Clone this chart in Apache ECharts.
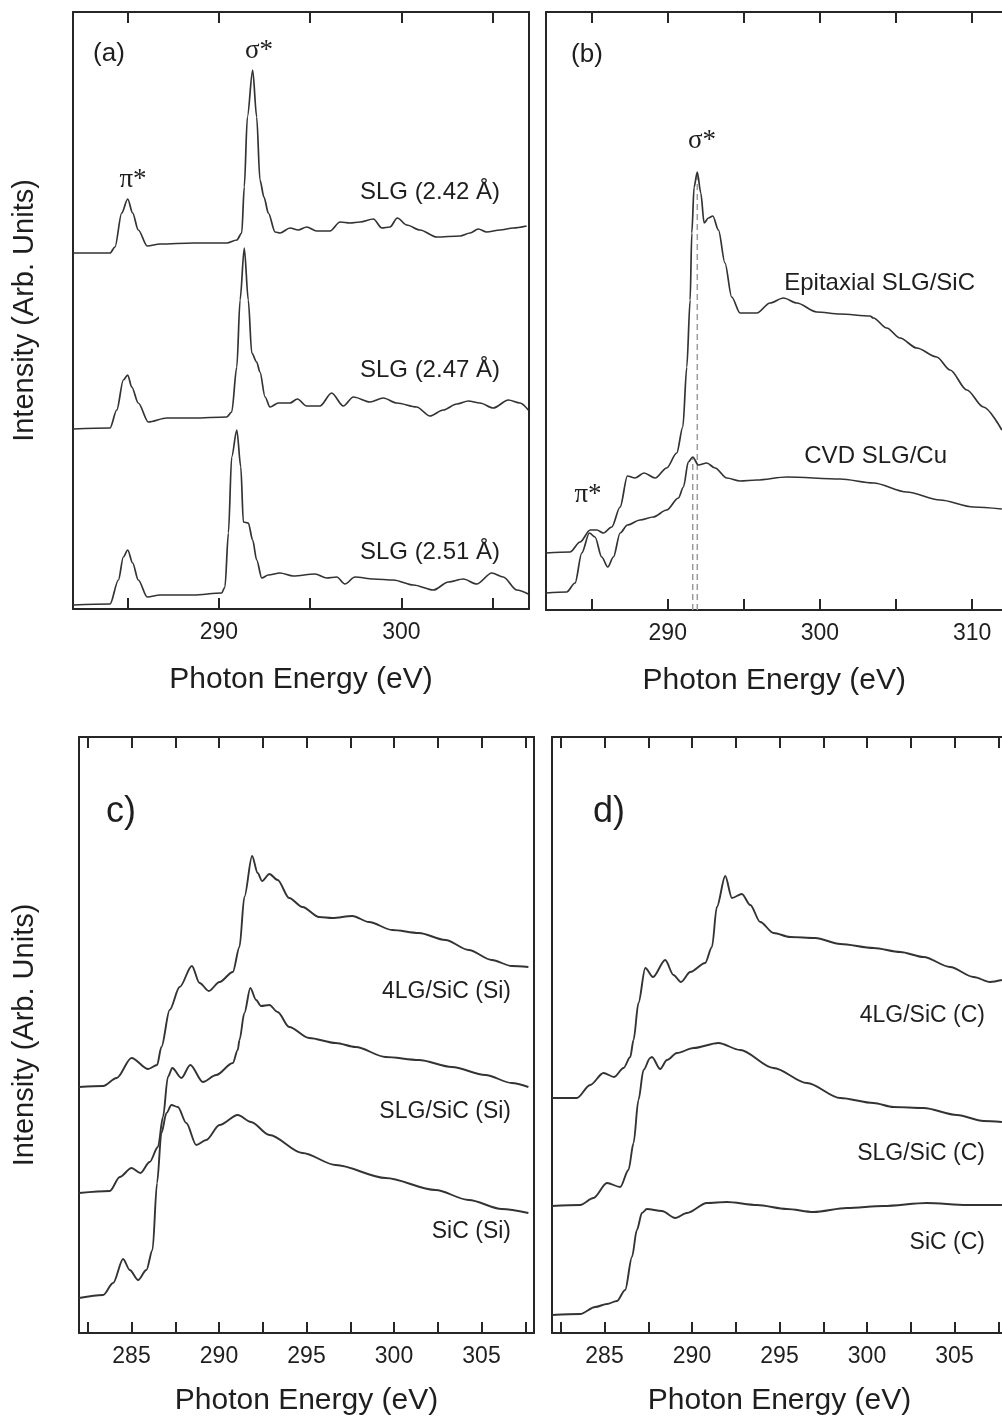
<!DOCTYPE html>
<html>
<head>
<meta charset="utf-8">
<title>NEXAFS C K-edge spectra</title>
<script src="https://cdn.jsdelivr.net/npm/echarts@6/dist/echarts.min.js"></script>
<style>
  html, body { margin: 0; padding: 0; background: #fff; }
  #chart { width: 1002px; height: 1421px; }
</style>
</head>
<body>
<div id="chart"></div>
<script>
// ---- data: [photon energy (eV), intensity (arb. units)] ----
const aSLG242 = [[282.0,356],[284.03,356],[284.3,362],[284.67,396],[285.0,410],[285.27,396],[285.58,379],[286.07,363],[286.77,365],[288.6,366],[290.43,366],[290.98,369],[291.25,376],[291.39,422],[291.56,492],[291.85,539],[292.07,492],[292.25,429],[292.47,412],[292.71,396],[293.08,377],[293.35,376],[293.9,381],[294.35,379],[294.81,382],[295.36,378],[296.09,378],[296.64,387],[297.19,386],[297.74,387],[298.47,390],[298.93,381],[299.38,382],[299.78,391],[300.3,384],[301.02,379],[301.94,372],[303.22,373],[303.77,376],[304.22,380],[304.68,377],[305.41,379],[306.14,381],[306.87,383]]
const aSLG247 = [[282.0,180],[284.03,181],[284.4,199],[284.76,229],[285.0,234],[285.22,222],[285.58,206],[286.13,187],[287.14,191],[288.6,191],[290.43,192],[290.7,197],[290.98,242],[291.16,309],[291.39,361],[291.61,309],[291.8,256],[292.07,247],[292.25,237],[292.53,212],[292.8,202],[293.26,206],[293.9,206],[294.3,210],[294.81,203],[295.54,203],[296.18,216],[296.82,203],[297.37,212],[298.28,207],[299.01,211],[299.75,206],[300.84,202],[301.57,193],[302.3,199],[303.04,205],[303.67,208],[304.31,206],[305.04,201],[305.87,209],[306.51,206],[306.96,199]]
const aSLG251 = [[282.0,4],[284.03,5],[284.49,29],[284.76,52],[285.0,59],[285.27,46],[285.58,29],[286.07,12],[286.77,14],[288.6,14],[290.15,16],[290.33,22],[290.52,76],[290.7,152],[290.98,179],[291.2,142],[291.34,87],[291.61,86],[291.85,69],[292.07,49],[292.35,31],[292.71,34],[293.35,36],[294.08,33],[295.27,35],[295.91,31],[296.46,32],[296.91,25],[297.46,32],[298.47,30],[299.56,29],[300.66,24],[301.76,19],[302.58,27],[303.4,30],[304.13,25],[304.96,36],[305.59,32],[306.33,19],[306.96,15]]

const bEpitaxial = [[282.0,57],[283.58,58],[284.24,68],[284.9,80],[285.34,80],[285.77,77],[286.32,83],[286.87,103],[287.35,134],[287.85,132],[288.44,137],[289.17,132],[289.93,142],[290.59,157],[290.99,183],[291.25,243],[291.47,310],[291.58,377],[291.73,423],[291.94,438],[292.17,417],[292.39,387],[292.67,392],[292.96,394],[293.33,380],[293.76,347],[294.2,313],[294.75,297],[295.85,297],[296.72,307],[297.6,312],[298.48,307],[299.79,298],[301.32,296],[303.29,294],[303.51,292],[304.39,282],[305.26,272],[306.36,262],[307.67,253],[308.55,240],[309.65,220],[310.74,203],[311.95,180]]
const bCVD = [[282.0,17],[283.36,18],[283.91,27],[284.35,57],[284.85,77],[285.22,73],[285.66,53],[286.06,43],[286.43,53],[286.87,77],[287.35,85],[288.18,90],[289.05,93],[289.93,100],[290.7,112],[291.03,123],[291.35,148],[291.64,153],[292.01,145],[292.56,147],[293.11,142],[293.88,132],[294.75,129],[295.85,130],[297.82,133],[301.32,131],[303.51,127],[305.7,118],[307.89,110],[310.08,103],[311.95,101]]
const bPeakCVD = [[291.64,0],[291.64,153]]
const bPeakEpi = [[291.94,0],[291.94,438]]

const c4LG = [[282.0,246],[283.38,247],[284.15,255],[285.0,275],[285.95,264],[286.46,268],[286.71,286],[287.18,323],[287.75,346],[288.45,367],[288.89,350],[289.42,342],[290.03,351],[290.79,361],[291.17,386],[291.45,436],[291.89,477],[292.21,460],[292.46,452],[292.88,459],[293.35,453],[294.01,435],[294.77,426],[295.72,416],[296.48,415],[297.62,417],[298.57,411],[299.9,403],[301.42,400],[302.94,393],[304.27,383],[305.59,373],[306.73,367],[307.68,366]]
const cSLG = [[282.0,140],[283.76,142],[284.33,156],[285.0,165],[285.51,160],[286.04,171],[286.51,186],[286.8,216],[287.08,256],[287.33,265],[287.85,255],[288.36,268],[289.08,251],[289.84,258],[290.79,270],[291.07,283],[291.17,293],[291.45,320],[291.79,345],[292.12,333],[292.4,327],[292.88,328],[293.35,321],[294.01,306],[295.15,295],[296.67,290],[297.81,286],[299.52,276],[301.42,273],[303.31,266],[305.22,258],[306.73,250],[307.68,246]]
const cSiC = [[282.0,35],[283.38,38],[283.95,50],[284.52,74],[284.9,63],[285.38,53],[285.85,63],[286.2,83],[286.46,150],[286.71,200],[287.0,220],[287.28,228],[287.65,226],[288.13,210],[288.7,188],[289.27,193],[290.03,208],[291.07,218],[291.83,211],[292.88,198],[294.77,180],[296.67,168],[299.52,155],[302.37,143],[304.27,133],[306.16,124],[307.68,120]]

const d4LG = [[282.0,235],[283.42,235],[284.18,248],[284.94,260],[285.55,256],[286.09,265],[286.47,276],[286.66,293],[286.94,330],[287.33,365],[287.77,356],[288.47,373],[288.94,358],[289.37,351],[289.9,361],[290.75,370],[291.14,386],[291.42,426],[291.9,457],[292.28,435],[292.85,439],[293.33,428],[293.9,411],[294.66,400],[295.61,396],[297.04,395],[298.47,389],[300.37,385],[301.9,381],[303.23,376],[304.75,366],[306.09,356],[307.04,351],[307.71,353]]
const dSLG = [[282.0,127],[283.61,128],[284.37,135],[285.14,150],[285.9,146],[286.37,163],[286.66,190],[286.94,233],[287.23,263],[287.61,275],[287.71,276],[288.18,264],[288.57,273],[289.14,280],[290.09,285],[291.51,290],[292.75,283],[294.66,265],[296.57,250],[298.47,235],[300.37,230],[301.51,226],[303.23,225],[305.14,218],[306.66,212],[307.71,211]]
const dSiC = [[282.0,18],[283.61,19],[284.47,26],[285.14,29],[285.71,32],[286.18,43],[286.57,76],[286.85,103],[287.14,120],[287.42,124],[288.28,122],[289.04,115],[289.71,120],[290.85,130],[291.99,131],[293.71,128],[295.42,124],[296.94,121],[298.85,125],[300.94,127],[303.42,130],[305.71,128],[307.71,128]]

// tick positions and labels
const ticksA = [285, 290, 295, 300, 305]
const labelsA = [290, 300]
const ticksB = [285, 290, 295, 300, 305, 310]
const labelsB = [290, 300, 310]
const ticksCD = [282.5, 285, 287.5, 290, 292.5, 295, 297.5, 300, 302.5, 305, 307.5]
const labelsCD = [285, 290, 295, 300, 305]

const FRAME = '#262626'
const LINE = '#333'
const TEXT = '#1e1e1e'
const SANS = '"Liberation Sans", Arial, sans-serif'
const SERIF = '"Liberation Serif", "Times New Roman", serif'

// panels (b) and (d) run past the right edge of the page, as in the original
const grids = [
  { left: 73, top: 12, width: 456, height: 597, outerBoundsMode: 'none' },
  { left: 546, top: 12, width: 456.6, height: 598, outerBoundsMode: 'none' },
  { left: 79, top: 737, width: 455, height: 596, outerBoundsMode: 'none' },
  { left: 552, top: 737, width: 455, height: 596, outerBoundsMode: 'none' },
]
const xRange = [[282, 307], [282, 312], [282, 308], [282, 308]]
const yMax = [597, 598, 596, 596]
const tickSets = [[ticksA, labelsA], [ticksB, labelsB], [ticksCD, labelsCD], [ticksCD, labelsCD]]

const frameLine = { show: true, onZero: false, lineStyle: { color: FRAME, width: 2 } }

const xAxes = []
const yAxes = []
grids.forEach((g, i) => {
  const [ticks, labels] = tickSets[i]
  xAxes.push({
    type: 'value', gridIndex: i, position: 'bottom',
    min: xRange[i][0], max: xRange[i][1],
    axisLine: frameLine,
    axisTick: { show: true, inside: true, length: 11, customValues: ticks, lineStyle: { color: FRAME, width: 2 } },
    axisLabel: { show: true, customValues: labels, margin: 12, color: TEXT, fontSize: 23, fontFamily: SANS },
    splitLine: { show: false },
    name: 'Photon Energy (eV)', nameLocation: 'middle', nameGap: i < 2 ? 56 : 53,
    nameTextStyle: { color: TEXT, fontSize: 30, fontFamily: SANS },
  })
  xAxes.push({
    type: 'value', gridIndex: i, position: 'top',
    min: xRange[i][0], max: xRange[i][1],
    axisLine: frameLine,
    axisTick: { show: true, inside: true, length: 11, customValues: ticks, lineStyle: { color: FRAME, width: 2 } },
    axisLabel: { show: false },
    splitLine: { show: false },
  })
  yAxes.push({
    type: 'value', gridIndex: i, position: 'left', min: 0, max: yMax[i],
    axisLine: frameLine, axisTick: { show: false }, axisLabel: { show: false }, splitLine: { show: false },
    name: i === 0 || i === 2 ? 'Intensity (Arb. Units)' : '',
    nameLocation: 'middle', nameGap: i === 0 ? 34 : 40,
    nameTextStyle: { color: TEXT, fontSize: 29, fontFamily: SANS },
  })
  yAxes.push({
    type: 'value', gridIndex: i, position: 'right', min: 0, max: yMax[i],
    axisLine: i === 0 || i === 2 ? frameLine : { show: false },
    axisTick: { show: false }, axisLabel: { show: false }, splitLine: { show: false },
  })
})

const spectrum = (panel, data, width) => ({
  type: 'line',
  xAxisIndex: panel * 2,
  yAxisIndex: panel * 2,
  data,
  symbol: 'none',
  smooth: 0.3,
  smoothMonotone: 'x',
  lineStyle: { color: LINE, width: width || 1.7 },
  silent: true,
})

const peakMark = (data) => ({
  type: 'line',
  xAxisIndex: 2,
  yAxisIndex: 2,
  data,
  symbol: 'none',
  lineStyle: { color: '#9a9a9a', width: 1.5, type: [6, 4] },
  silent: true,
  z: 1,
})

const series = [
  spectrum(0, aSLG242), spectrum(0, aSLG247), spectrum(0, aSLG251),
  peakMark(bPeakCVD), peakMark(bPeakEpi),
  spectrum(1, bEpitaxial), spectrum(1, bCVD),
  spectrum(2, c4LG, 1.9), spectrum(2, cSLG, 1.9), spectrum(2, cSiC, 1.9),
  spectrum(3, d4LG, 1.9), spectrum(3, dSLG, 1.9), spectrum(3, dSiC, 1.9),
]

const txt = (text, x, y, size, align, font) => ({
  type: 'text', x, y, silent: true,
  style: { text, fill: TEXT, font: `${size}px ${font || SANS}`, align: align || 'center', verticalAlign: 'middle' },
})

const graphic = [
  txt('(a)', 109, 54, 26),
  txt('σ*', 259, 51, 27, 'center', SERIF),
  txt('π*', 133, 180, 27, 'center', SERIF),
  txt('SLG (2.42 Å)', 500, 192, 24, 'right'),
  txt('SLG (2.47 Å)', 500, 370, 24, 'right'),
  txt('SLG (2.51 Å)', 500, 552, 24, 'right'),
  txt('(b)', 587, 55, 26),
  txt('σ*', 702, 141, 27, 'center', SERIF),
  txt('π*', 588, 495, 27, 'center', SERIF),
  txt('Epitaxial SLG/SiC', 975, 283, 24, 'right'),
  txt('CVD SLG/Cu', 947, 456, 24, 'right'),
  txt('c)', 121, 812, 36),
  txt('4LG/SiC (Si)', 511, 992, 23, 'right'),
  txt('SLG/SiC (Si)', 511, 1112, 23, 'right'),
  txt('SiC (Si)', 511, 1232, 23, 'right'),
  txt('d)', 609, 812, 36),
  txt('4LG/SiC (C)', 985, 1016, 23, 'right'),
  txt('SLG/SiC (C)', 985, 1154, 23, 'right'),
  txt('SiC (C)', 985, 1243, 23, 'right'),
]

const myChart = echarts.init(document.getElementById('chart'), null, { renderer: 'canvas' })
myChart.setOption({
  backgroundColor: '#fff',
  animation: false,
  grid: grids,
  xAxis: xAxes,
  yAxis: yAxes,
  series,
  graphic,
})
</script>
</body>
</html>
